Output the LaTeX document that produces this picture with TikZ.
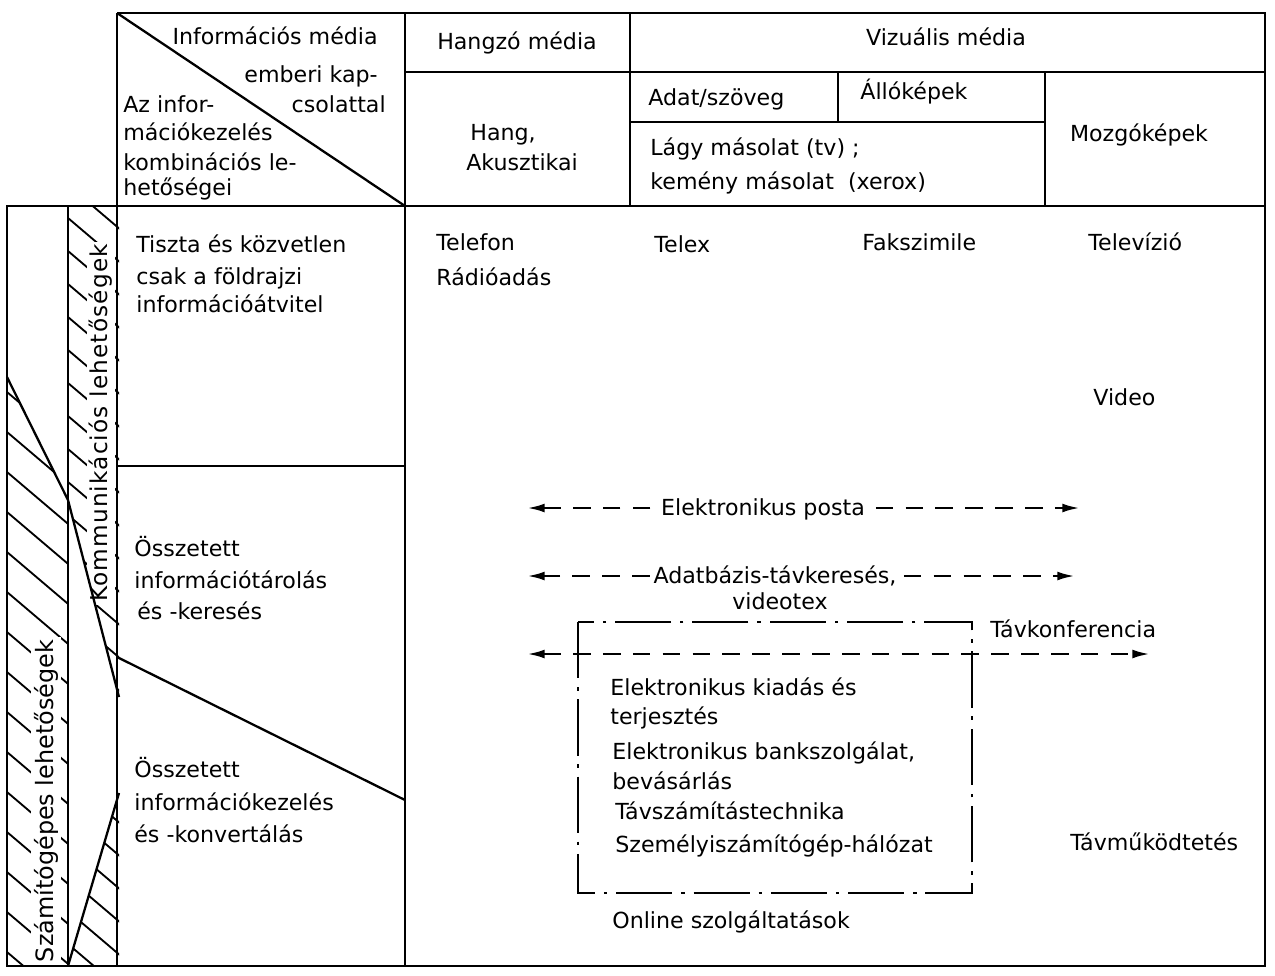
\documentclass[tikz,border=0pt]{standalone}
\usepackage{fontspec}
\setmainfont{DejaVu Sans}
\newfontfamily\spacedfont[LetterSpace=5]{DejaVu Sans}
\usetikzlibrary{arrows.meta}
\begin{document}
\begin{tikzpicture}[x=0.02cm,y=-0.02cm,
  txt/.style={inner sep=0pt, font=\fontsize{12.6}{15}\selectfont},
  lft/.style={txt, anchor=base west},
  rgt/.style={txt, anchor=base east},
  mid/.style={txt, anchor=base},
  vert/.style={inner sep=1.5pt, fill=white, rotate=90},
  frame/.style={line width=1.5pt},
  rule/.style={line width=1.3pt},
  hatch/.style={line width=1.05pt},
  tip/.style={-{Latex[length=10pt,width=5pt]}},
  dasharrow/.style={line width=1.5pt, dash pattern=on 10pt off 7pt, tip},
  dashdot/.style={line width=1.4pt, dash pattern=on 32pt off 5pt on 2pt off 5pt}]
\useasboundingbox (0,0) rectangle (1275,975);

% hatched bands of the left strip
\begin{scope}
  \clip (7,377) -- (68,500) -- (68,966) -- (7,966) -- cycle;
  \foreach \k in {-3,...,15} \draw[hatch] (-93,{347+40*\k}) -- ++(300,255);
\end{scope}
\begin{scope}
  \clip (68,206) -- (119,206) -- (119,697) -- (68,500) -- cycle
        (119,793) -- (119,966) -- (68,966) -- cycle;
  \foreach \k in {-3,...,26} \draw[hatch] (-32,{133+33*\k}) -- ++(300,255);
\end{scope}

% strip labels
\node[vert, font=\spacedfont\fontsize{13.2}{16}\selectfont] (komm) at (101,423) {Kommunikációs lehetőségek};
\node[vert, font=\fontsize{13.6}{16}\selectfont] (szam) at (46,801) {Számítógépes lehetőségek};

% wedge boundaries
\draw[rule] (7,377) -- (68,500) -- (119,697);
\draw[rule] (119,793) -- (68,966);

% outer frame and table rules
\draw[frame] (117,13) -- (1265,13) -- (1265,966) -- (7,966) -- (7,206) -- (1265,206);
\draw[frame] (117,13) -- (117,966);
\draw[frame] (68,206) -- (68,966);
\draw[frame] (405,13) -- (405,966);
\draw[rule] (630,13) -- (630,206);
\draw[rule] (405,72) -- (1265,72);
\draw[rule] (838,72) -- (838,122);
\draw[rule] (630,122) -- (1045,122);
\draw[rule] (1045,72) -- (1045,206);
\draw[rule] (117,13) -- (405,206);
\draw[rule] (117,466) -- (405,466);
\draw[rule] (117,657) -- (405,800);

% header, corner cell
\node[rgt] (h1) at (378,44) {Információs média};
\node[rgt] (h2) at (378,82) {emberi kap-};
\node[rgt] (h3) at (386,112) {csolattal};
\node[lft] (c1) at (123,112) {Az infor-};
\node[lft] (c2) at (123,140) {mációkezelés};
\node[lft] (c3) at (123,170) {kombinációs le-};
\node[lft] (c4) at (123,195) {hetőségei};

% header, media columns
\node[mid] (hangzo) at (517,49) {Hangzó média};
\node[mid] (vizual) at (946,45) {Vizuális média};
\node[lft] (hang) at (470,140) {Hang,};
\node[lft] (akusz) at (466,170) {Akusztikai};
\node[lft] (adat) at (648,105) {Adat/szöveg};
\node[lft] (allo) at (860,99) {Állóképek};
\node[lft] (lagy) at (650,155) {Lágy másolat (tv) ;};
\node[lft] (kemeny) at (650,189) {kemény másolat\ \ (xerox)};
\node[mid] (mozgo) at (1139,141) {Mozgóképek};

% row labels
\node[lft] (r1a) at (136,252) {Tiszta és közvetlen};
\node[lft] (r1b) at (136,284) {csak a földrajzi};
\node[lft] (r1c) at (136,312) {információátvitel};
\node[lft] (r2a) at (134,556) {Összetett};
\node[lft] (r2b) at (134,588) {információtárolás};
\node[lft] (r2c) at (137,619) {és -keresés};
\node[lft] (r3a) at (134,777) {Összetett};
\node[lft] (r3b) at (134,810) {információkezelés};
\node[lft] (r3c) at (134,842) {és -konvertálás};

% services
\node[lft] (telefon) at (436,250) {Telefon};
\node[lft] (radio) at (436,285) {Rádióadás};
\node[lft] (telex) at (654,252) {Telex};
\node[lft] (fax) at (862,250) {Fakszimile};
\node[lft] (tv) at (1088,250) {Televízió};
\node[lft] (video) at (1093,405) {Video};
\node[lft] (tavmuk) at (1070,850) {Távműködtetés};

% two-way services
\coordinate (epL) at (527,508);
\coordinate (epR) at (1080,508);
\node[mid] (ep) at (763,515) {Elektronikus posta};
\draw[dasharrow] ([xshift=-6pt]ep.west |- epL) -- (epL);
\draw[dasharrow] ([xshift=6pt]ep.east |- epR) -- (epR);

\coordinate (dbL) at (527,576);
\coordinate (dbR) at (1075,576);
\node[mid] (db) at (775,583) {Adatbázis-távkeresés,};
\node[mid] (vtex) at (780,609) {videotex};
\draw[dasharrow] ([xshift=-2pt]db.west |- dbL) -- (dbL);
\draw[dasharrow] ([xshift=4pt]db.east |- dbR) -- (dbR);

% online services box
\node[lft] (o1) at (610,695) {Elektronikus kiadás és};
\node[lft] (o2) at (610,724) {terjesztés};
\node[lft] (o3) at (612,759) {Elektronikus bankszolgálat,};
\node[lft] (o4) at (612,789) {bevásárlás};
\node[lft] (o5) at (615,819) {Távszámítástechnika};
\node[lft] (o6) at (615,852) {Személyiszámítógép-hálózat};
\node[lft] (online) at (612,928) {Online szolgáltatások};
\coordinate (boxTL) at (578,622);
\coordinate (boxBR) at (972,893);
\draw[dashdot] (boxTL) rectangle (boxBR);

% conferencing line
\node[lft] (tkonf) at (990,637) {Távkonferencia};
\coordinate (tkL) at (527,654);
\coordinate (tkR) at (1150,654);
\draw[dasharrow, {Latex[length=10pt,width=5pt]}-{Latex[length=10pt,width=5pt]}] (tkL) -- (tkR);
\end{tikzpicture}
\end{document}
